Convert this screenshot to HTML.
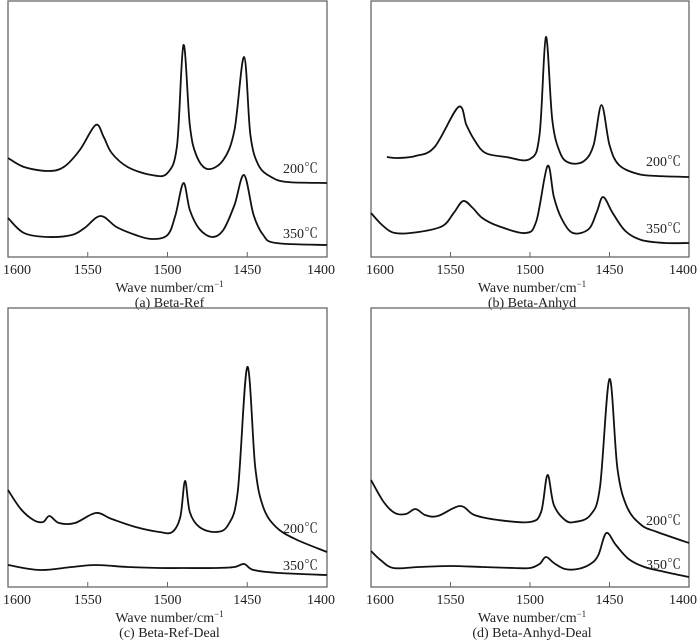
<!DOCTYPE html>
<html><head><meta charset="utf-8"><style>
html,body{margin:0;padding:0;background:#fff;}
svg{display:block;font-family:"Liberation Serif","Noto Serif CJK SC",serif;}
</style></head><body>
<svg id="chart" width="700" height="642" viewBox="0 0 700 642" xmlns="http://www.w3.org/2000/svg"></svg>
<script>
const tickLabels = ["1600","1550","1500","1450","1400"];
const tickValues = [1600,1550,1500,1450,1400];
const captions = ["(a) Beta-Ref","(b) Beta-Anhyd","(c) Beta-Ref-Deal","(d) Beta-Anhyd-Deal"];
// [wavenumber, height] series
const a200 = [[1600,99],[1590,90],[1575,86],[1565,90],[1555,107],[1545,132],[1540,120],[1535,104],[1525,90],[1510,82],[1500,84],[1494,112],[1490,212],[1486,132],[1482,102],[1475,88],[1465,97],[1458,127],[1452,200],[1448,122],[1443,92],[1435,80],[1425,75],[1400,74]];
const a350 = [[1600,39],[1590,24],[1575,20],[1560,22],[1552,29],[1542,41],[1532,30],[1520,22],[1510,18],[1500,22],[1495,42],[1490,74],[1486,47],[1480,28],[1472,20],[1465,27],[1458,52],[1452,82],[1446,42],[1440,22],[1432,14],[1400,12]];
const b200 = [[1590,100],[1583,99],[1572,101],[1560,110],[1545,150],[1540,132],[1535,117],[1528,104],[1515,100],[1500,98],[1494,122],[1490,220],[1486,137],[1481,104],[1475,94],[1466,96],[1460,112],[1455,152],[1450,112],[1444,92],[1432,83],[1420,81],[1400,80]];
const b350 = [[1600,44],[1593,32],[1585,24],[1570,25],[1555,31],[1548,44],[1542,56],[1536,49],[1530,39],[1520,31],[1503,24],[1496,36],[1489,91],[1485,60],[1480,38],[1473,24],[1463,28],[1458,45],[1454,60],[1448,44],[1440,26],[1430,17],[1415,14],[1400,14]];
const c200 = [[1600,97],[1592,78],[1584,67],[1578,65],[1574,71],[1568,64],[1558,64],[1545,74],[1535,68],[1520,60],[1505,55],[1497,55],[1492,70],[1489,106],[1486,75],[1480,60],[1470,55],[1462,62],[1456,95],[1450,220],[1445,120],[1440,80],[1432,60],[1420,48],[1400,35]];
const c350 = [[1600,22],[1580,17],[1560,20],[1545,22],[1525,20],[1505,19],[1490,19],[1470,19],[1458,20],[1452,23],[1446,17],[1430,14],[1400,12]];
const d200 = [[1600,107],[1592,85],[1585,74],[1578,73],[1572,78],[1566,72],[1558,71],[1544,81],[1535,72],[1520,67],[1500,65],[1493,75],[1489,112],[1485,82],[1478,67],[1472,65],[1462,72],[1456,100],[1450,208],[1445,118],[1439,80],[1430,62],[1420,55],[1400,44]];
const d350 = [[1600,36],[1594,27],[1586,19],[1570,20],[1550,21],[1530,20],[1510,19],[1500,19],[1494,23],[1490,30],[1485,24],[1478,18],[1470,18],[1462,23],[1457,32],[1452,54],[1446,42],[1438,28],[1428,20],[1415,15],[1400,10]];

const panels = [
 {x0:8,x1:327,top:1,bot:257,series:[a200,a350],labels:[["200℃",283,173],["350℃",283,238]]},
 {x0:371,x1:689,top:1,bot:257,series:[b200,b350],labels:[["200℃",646,166],["350℃",646,233]]},
 {x0:8,x1:327,top:308,bot:587,series:[c200,c350],labels:[["200℃",283,533],["350℃",283,570]]},
 {x0:371,x1:689,top:308,bot:587,series:[d200,d350],labels:[["200℃",646,525],["350℃",646,569]]}
];
const NS="http://www.w3.org/2000/svg";
const svg=document.getElementById('chart');
function mk(tag,attrs,parent){const e=document.createElementNS(NS,tag);for(const k in attrs)e.setAttribute(k,attrs[k]);(parent||svg).appendChild(e);return e;}
function smooth(pts){let d="M"+pts[0][0].toFixed(1)+","+pts[0][1].toFixed(1);
 for(let i=0;i<pts.length-1;i++){const p0=pts[Math.max(0,i-1)],p1=pts[i],p2=pts[i+1],p3=pts[Math.min(pts.length-1,i+2)];
  const c1=[p1[0]+(p2[0]-p0[0])/6,p1[1]+(p2[1]-p0[1])/6],c2=[p2[0]-(p3[0]-p1[0])/6,p2[1]-(p3[1]-p1[1])/6];
  d+=" C"+c1[0].toFixed(1)+","+c1[1].toFixed(1)+" "+c2[0].toFixed(1)+","+c2[1].toFixed(1)+" "+p2[0].toFixed(1)+","+p2[1].toFixed(1);}
 return d;}
panels.forEach((p,pi)=>{
 const g=mk('g',{});
 
 
 const xs=v=>p.x0+(1600-v)/200*(p.x1-p.x0);
 const ys=h=>p.bot-h;
 const fr=mk('rect',{x:p.x0,y:p.top,width:p.x1-p.x0,height:p.bot-p.top,fill:'none',stroke:'#666','stroke-width':1.3},g);
 
 
 tickValues.forEach((v,i)=>{
  if(i>0&&i<tickValues.length-1){const t=mk('line',{x1:xs(v),x2:xs(v),y1:p.bot,y2:p.bot-5,stroke:'#666','stroke-width':1},g);
   
   }
  const lx=Math.min(Math.max(xs(v),p.x0+9),p.x1-6);
  const tl=mk('text',{x:lx,y:p.bot+17,'font-size':14,'text-anchor':'middle',fill:'#222'},g);
  tl.textContent=tickLabels[i];
  
  
 });
 const cx=(p.x0+p.x1)/2+2;
 const at=mk('text',{x:cx,y:p.bot+35,'font-size':14,'text-anchor':'middle',fill:'#222'},g);
 at.innerHTML='Wave number/cm<tspan dy="-5" font-size="9">−1</tspan>';
 
 
 const cp=mk('text',{x:cx,y:p.bot+50,'font-size':14,'text-anchor':'middle',fill:'#222'},g);
 cp.textContent=captions[pi];
 
 
 p.series.forEach((s,si)=>{
  const pts=s.map(q=>[xs(q[0]),ys(q[1])]);
  const path=mk('path',{d:smooth(pts),fill:'none',stroke:'#111','stroke-width':1.8},g);
  
  
 });
 p.labels.forEach(l=>{
  const t=mk('text',{x:l[1],y:l[2],'font-size':14,fill:'#222'},g);
  t.textContent=l[0];
  
  
 });
});
</script>
</body></html>
